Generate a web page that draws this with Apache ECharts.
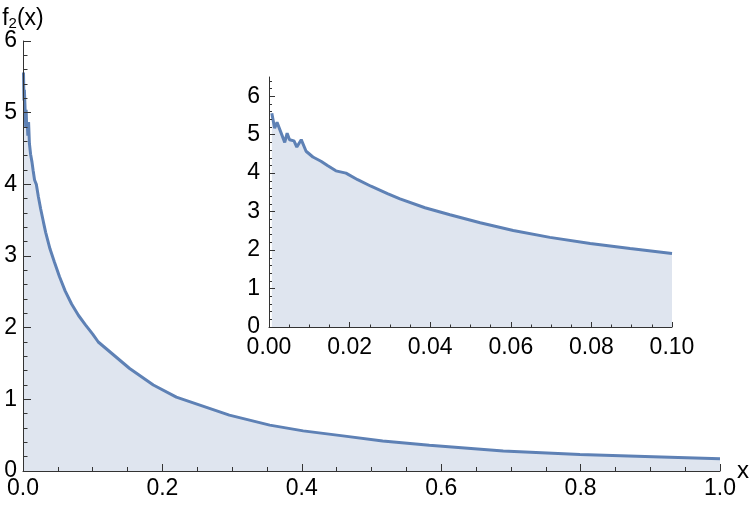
<!DOCTYPE html>
<html>
<head>
<meta charset="utf-8">
<script src="https://cdn.jsdelivr.net/npm/echarts@6/dist/echarts.min.js"></script>
<style>
  html, body { margin: 0; padding: 0; background: #fff; }
  #chart { width: 750px; height: 507px; }
</style>
</head>
<body>
<div id="chart"></div>
<script>
const xValues = [0.0007, 0.0014, 0.002, 0.0039, 0.0045, 0.0051, 0.0062, 0.0069, 0.008, 0.0092,
  0.0109, 0.0129, 0.0146, 0.0166, 0.0191, 0.022, 0.0253, 0.0294, 0.0325, 0.0387,
  0.0449, 0.0524, 0.0606, 0.0697, 0.0797, 0.0896, 0.1, 0.108, 0.153, 0.187,
  0.22, 0.296, 0.354, 0.402, 0.459, 0.516, 0.583, 0.689, 0.799, 0.904, 1.0]
const yValues = [5.56, 5.17, 5.32, 4.8, 5.04, 4.87, 4.84, 4.68, 4.87, 4.57,
  4.42, 4.31, 4.19, 4.06, 4.0, 3.83, 3.66, 3.47, 3.33, 3.10,
  2.92, 2.71, 2.51, 2.33, 2.17, 2.04, 1.91, 1.80, 1.43, 1.20,
  1.03, 0.78, 0.64, 0.56, 0.49, 0.42, 0.36, 0.28, 0.23, 0.20, 0.17]

const mainXTicks = ['0.0', '0.2', '0.4', '0.6', '0.8', '1.0']
const insetXTicks = ['0.00', '0.02', '0.04', '0.06', '0.08', '0.10']
const insetYTicks = [0, 1, 2, 3, 4, 5, 6]

const points = xValues.map((x, i) => [x, yValues[i]])

const lineColor = '#5e81b5'
const fillColor = '#dfe5ef'
const axisColor = '#333'
const font = 'Liberation Sans, Arial, sans-serif'

// Mathematica-like frame axes: ticks drawn inward, above the filled area
const makeAxis = (majorLen, minorLen, split) => ({
  z: 10,
  axisLine: { show: true, onZero: false, lineStyle: { color: axisColor, width: 1 } },
  axisTick: { show: true, inside: true, length: majorLen, lineStyle: { color: axisColor } },
  minorTick: { show: true, splitNumber: split, length: minorLen, lineStyle: { color: axisColor } },
  splitLine: { show: false },
  axisLabel: { color: '#000', fontSize: 23, fontFamily: font },
})

const chart = echarts.init(document.getElementById('chart'))

chart.setOption({
  animation: false,
  grid: [
    { left: 23, right: 30, top: 41, bottom: 36, outerBoundsMode: 'none' },
    { left: 269, right: 78, top: 77, bottom: 180, outerBoundsMode: 'none' },
  ],
  xAxis: [
    {
      ...makeAxis(7, 4, 4),
      gridIndex: 0,
      type: 'value',
      min: 0,
      max: 1,
      interval: 0.2,
      axisLabel: { color: '#000', fontSize: 23, fontFamily: font, margin: 6, formatter: v => mainXTicks[Math.round(v / 0.2)] },
      name: 'x',
      nameLocation: 'end',
      nameGap: 17,
      nameMoveOverlap: false,
      nameTextStyle: { fontSize: 24, fontFamily: font, color: '#000', verticalAlign: 'middle', padding: [4, 0, 0, 0] },
    },
    {
      ...makeAxis(5, 2.5, 4),
      gridIndex: 1,
      type: 'value',
      min: 0,
      max: 0.1,
      interval: 0.02,
      axisLabel: { color: '#000', fontSize: 23, fontFamily: font, margin: 9, formatter: v => insetXTicks[Math.round(v / 0.02)] },
    },
  ],
  yAxis: [
    {
      ...makeAxis(8, 4.5, 5),
      gridIndex: 0,
      type: 'value',
      min: 0,
      max: 6,
      interval: 1,
      axisLabel: { color: '#000', fontSize: 23, fontFamily: font, margin: 6 },
      name: 'f{sub|2}(x)',
      nameLocation: 'end',
      nameGap: 10,
      nameMoveOverlap: false,
      nameTextStyle: {
        fontSize: 23, fontFamily: font, color: '#000', align: 'center',
        rich: { sub: { fontSize: 15, fontFamily: font, color: '#000', verticalAlign: 'bottom', padding: [9, 0, 0, 0] } },
      },
    },
    {
      ...makeAxis(6, 3, 5),
      gridIndex: 1,
      type: 'value',
      min: 0,
      max: 6.5,
      interval: 1,
      axisTick: { show: true, inside: true, length: 6, customValues: insetYTicks, lineStyle: { color: axisColor } },
      axisLabel: { color: '#000', fontSize: 23, fontFamily: font, margin: 9, customValues: insetYTicks },
    },
  ],
  series: [
    {
      type: 'line',
      xAxisIndex: 0,
      yAxisIndex: 0,
      data: points,
      symbol: 'none',
      lineStyle: { color: lineColor, width: 3 },
      areaStyle: { color: fillColor, opacity: 1 },
    },
    {
      type: 'line',
      xAxisIndex: 1,
      yAxisIndex: 1,
      data: points.filter(p => p[0] <= 0.1),
      symbol: 'none',
      lineStyle: { color: lineColor, width: 3 },
      areaStyle: { color: fillColor, opacity: 1 },
    },
  ],
})
</script>
</body>
</html>
